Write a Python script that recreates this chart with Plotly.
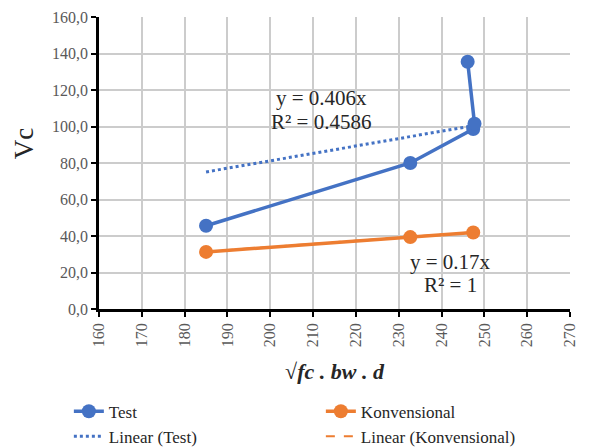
import plotly.graph_objects as go

# Data
test_x = [185.0, 232.7, 247.4, 247.7, 246.1]
test_y = [45.6, 80.0, 98.6, 101.5, 135.5]
konv_x = [185.0, 232.7, 247.4]
konv_y = [31.3, 39.4, 41.9]

test_slope = 0.406
konv_slope = 0.17
test_eq = ["y = 0.406x", "R² = 0.4586"]
konv_eq = ["y = 0.17x", "R² = 1"]

x_ticks = [160, 170, 180, 190, 200, 210, 220, 230, 240, 250, 260, 270]
y_ticks = [0, 20, 40, 60, 80, 100, 120, 140, 160]
y_ticktext = ["0,0", "20,0", "40,0", "60,0", "80,0", "100,0", "120,0", "140,0", "160,0"]

BLUE = "#4472C4"
ORANGE = "#ED7D31"
SERIF = "Liberation Serif"
TICKFONT = dict(family=SERIF, size=16, color="#595959")


def styled(label):
    return ("<span style='font-family:Liberation Serif;font-size:16px;color:#595959'>"
            + label + "</span>")


fig = go.Figure()

tx = [min(test_x), max(test_x)]
kx = [min(konv_x), max(konv_x)]

fig.add_trace(go.Scatter(
    x=tx, y=[test_slope * v for v in tx], mode="lines", name="Linear (Test)",
    line=dict(color=BLUE, width=3, dash="dot"), legendrank=3))
fig.add_trace(go.Scatter(
    x=kx, y=[konv_slope * v for v in kx], mode="lines", name="Linear (Konvensional)",
    line=dict(color=ORANGE, width=2, dash="dash"), legendrank=4))
fig.add_trace(go.Scatter(
    x=test_x, y=test_y, mode="lines+markers", name="Test",
    line=dict(color=BLUE, width=3.5), marker=dict(size=14, color=BLUE),
    legendrank=1))
fig.add_trace(go.Scatter(
    x=konv_x, y=konv_y, mode="lines+markers", name="Konvensional",
    line=dict(color=ORANGE, width=3.5), marker=dict(size=14, color=ORANGE),
    legendrank=2))

ann_font = dict(family=SERIF, size=21, color="#262626")
fig.add_annotation(x=211.9, y=115.5, text=test_eq[0], showarrow=False, font=ann_font)
fig.add_annotation(x=211.9, y=102.5, text=test_eq[1], showarrow=False, font=ann_font)
fig.add_annotation(x=242.0, y=26.0, text=konv_eq[0], showarrow=False, font=ann_font)
fig.add_annotation(x=242.0, y=13.2, text=konv_eq[1], showarrow=False, font=ann_font)

# y-axis title placed as in the reference (slightly above plot centre)
fig.add_annotation(xref="paper", yref="paper", x=-0.159, y=0.565,
                   xanchor="center", yanchor="middle",
                   text="Vc", textangle=-90, showarrow=False,
                   font=dict(family=SERIF, size=27, color="#262626"))

fig.update_layout(
    template="none",
    width=591, height=448,
    margin=dict(l=99, r=21, t=17, b=139, autoexpand=False),
    plot_bgcolor="white", paper_bgcolor="white",
    font=dict(family=SERIF, color="#404040"),
    showlegend=True,
    legend=dict(
        orientation="h", x=-0.064, y=-0.29, xanchor="left", yanchor="top",
        entrywidth=207, entrywidthmode="pixels",
        font=dict(family=SERIF, size=17, color="#262626"),
        traceorder="normal", tracegroupgap=0,
        bgcolor="rgba(0,0,0,0)",
    ),
    xaxis=dict(
        range=[160, 270], tickvals=x_ticks, ticktext=[styled(str(v)) for v in x_ticks],
        tickangle=-90, tickfont=TICKFONT,
        showgrid=True, gridcolor="#cccccc", gridwidth=1.5,
        showline=True, linecolor="black", linewidth=2.5,
        ticks="outside", ticklen=5, tickwidth=2, tickcolor="black",
        zeroline=False,
        title=dict(text="√<b><i>fc . bw . d</i></b>",
                   font=dict(family=SERIF, size=22, color="#262626"), standoff=18),
    ),
    yaxis=dict(
        range=[0, 160], tickvals=y_ticks, ticktext=[styled(t) for t in y_ticktext],
        tickfont=TICKFONT,
        showgrid=True, gridcolor="#cccccc", gridwidth=1.5,
        showline=True, linecolor="black", linewidth=2.5,
        ticks="outside", ticklen=5, tickwidth=2, tickcolor="black",
        zeroline=False,
    ),
)

fig.write_html("out.html")
